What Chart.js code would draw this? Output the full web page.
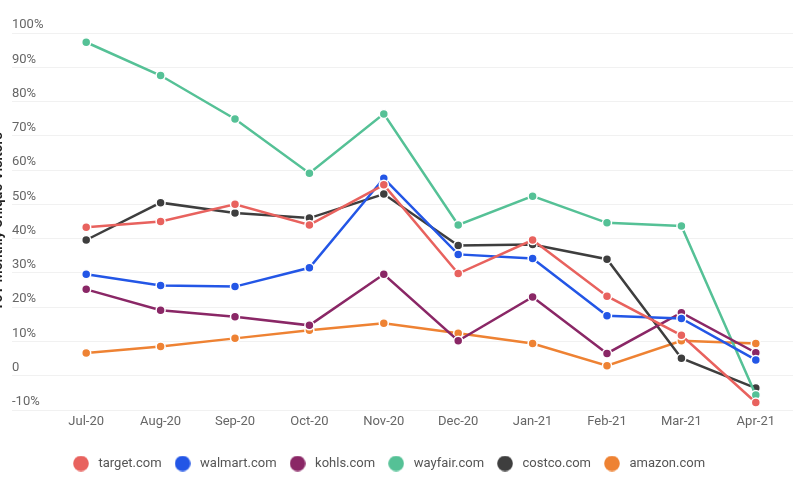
<!DOCTYPE html>
<html lang="en">
<head>
    <meta charset="UTF-8">
    <title>YoY Monthly Unique Visitors</title>
    <script src="https://cdn.jsdelivr.net/npm/chart.js"></script>
    <style>
        body {
            margin: 0;
            background-color: #fff;
        }
        #wrap {
            width: 800px;
            height: 500px;
        }
    </style>
</head>
<body>
    <div id="wrap"><canvas id="visitorsChart" width="800" height="500"></canvas></div>

    <script>
        const months = ['Jul-20', 'Aug-20', 'Sep-20', 'Oct-20', 'Nov-20', 'Dec-20', 'Jan-21', 'Feb-21', 'Mar-21', 'Apr-21'];
        const yTickLabels = ['-10%', '0', '10%', '20%', '30%', '40%', '50%', '60%', '70%', '80%', '90%', '100%'];

        const target = [43.3, 45.0, 50.0, 44.0, 55.7, 29.8, 39.6, 23.2, 11.8, -7.8];
        const walmart = [29.6, 26.3, 26.0, 31.5, 57.6, 35.4, 34.2, 17.5, 16.7, 4.6];
        const kohls = [25.2, 19.1, 17.2, 14.7, 29.6, 10.2, 23.0, 6.5, 18.4, 6.7];
        const wayfair = [97.3, 87.6, 74.9, 59.1, 76.4, 44.0, 52.4, 44.6, 43.7, -5.6];
        const costco = [39.6, 50.5, 47.5, 46.0, 53.0, 38.0, 38.3, 34.0, 5.1, -3.6];
        const amazon = [6.6, 8.5, 10.9, 13.3, 15.3, 12.4, 9.4, 2.9, 10.2, 9.4];

        const siteNames = ['target.com', 'walmart.com', 'kohls.com', 'wayfair.com', 'costco.com', 'amazon.com'];
        const siteColors = ['#E8625E', '#2356E6', '#8A2766', '#55C196', '#3E3E3E', '#EE8233'];
        const siteValues = [target, walmart, kohls, wayfair, costco, amazon];

        // round swatch for the legend, drawn once per colour
        function dot(color) {
            const c = document.createElement('canvas');
            c.width = 16;
            c.height = 16;
            const g = c.getContext('2d');
            g.fillStyle = color;
            g.beginPath();
            g.arc(8, 8, 7.8, 0, Math.PI * 2);
            g.fill();
            return c;
        }

        // legend sits a bit left of centre in the original
        const legendNudge = {
            id: 'legendNudge',
            afterLayout: chart => {
                chart.legend.left -= 15;
                chart.legend.right -= 15;
            }
        };

        Chart.defaults.font.family = 'Roboto, "Helvetica Neue", Arial, sans-serif';
        Chart.defaults.font.size = 13;

        const ctx = document.getElementById('visitorsChart').getContext('2d');
        new Chart(ctx, {
            type: 'line',
            data: {
                labels: months,
                datasets: siteNames.map((name, i) => ({
                    label: name,
                    data: siteValues[i],
                    borderColor: siteColors[i],
                    backgroundColor: siteColors[i],
                    borderWidth: 2.5,
                    tension: 0,
                    pointRadius: 4.5,
                    pointBorderWidth: 1.5,
                    pointBorderColor: '#fff',
                    pointBackgroundColor: siteColors[i]
                }))
            },
            options: {
                responsive: false,
                animation: false,
                layout: {
                    padding: { left: 12, right: 7, top: 33, bottom: 20 }
                },
                scales: {
                    x: {
                        offset: true,
                        grid: { display: false, drawTicks: false },
                        border: { display: false },
                        ticks: { color: '#666', padding: 4, maxRotation: 0 },
                        afterFit: axis => { axis.height = 37; }
                    },
                    y: {
                        min: -10,
                        max: 100,
                        border: { display: false },
                        grid: { color: '#f1f1f1', tickLength: 37 },
                        ticks: {
                            stepSize: 10,
                            color: '#666',
                            crossAlign: 'far',
                            labelOffset: -8,
                            callback: (v, i) => yTickLabels[i]
                        },
                        title: {
                            display: true,
                            text: 'YoY Monthly Unique Visitors',
                            color: '#222',
                            font: { size: 14, weight: '600' },
                            padding: { top: -22, bottom: 0 }
                        },
                        afterFit: axis => { axis.width = 37; }
                    }
                },
                plugins: {
                    legend: {
                        position: 'bottom',
                        labels: {
                            usePointStyle: true,
                            pointStyleWidth: 22,
                            padding: 10,
                            color: '#555',
                            generateLabels: chart => {
                                const items = Chart.defaults.plugins.legend.labels.generateLabels(chart);
                                items.forEach((it, i) => { it.pointStyle = dot(siteColors[i]); });
                                return items;
                            }
                        }
                    },
                    tooltip: { enabled: false }
                }
            },
            plugins: [legendNudge]
        });
    </script>
</body>
</html>
